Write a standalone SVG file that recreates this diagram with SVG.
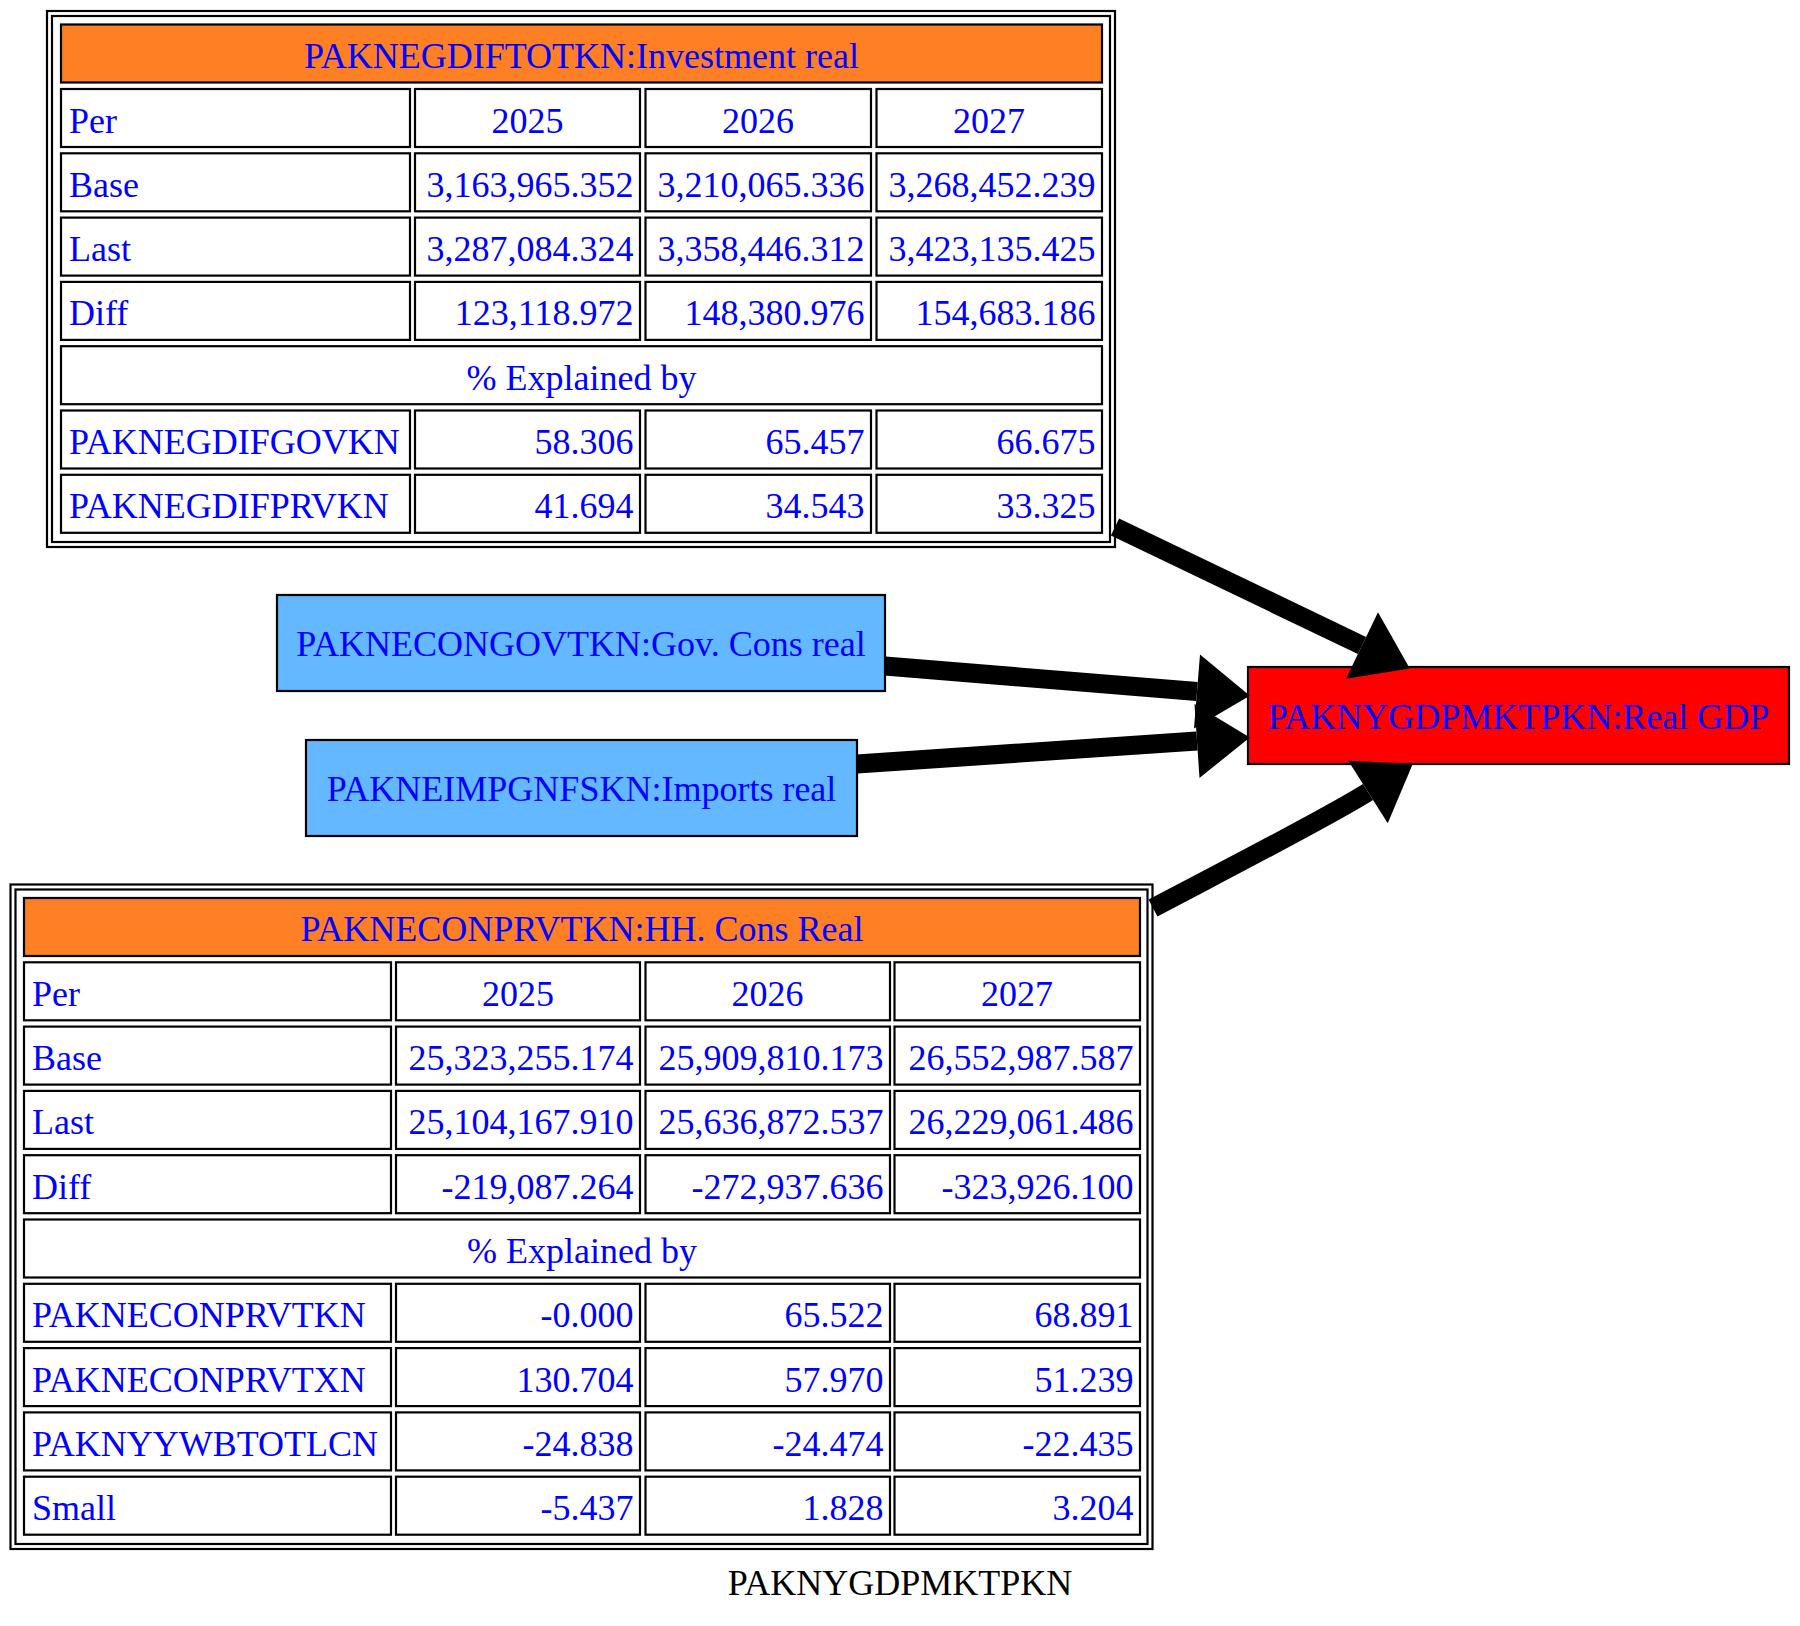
<svg xmlns="http://www.w3.org/2000/svg" width="1800" height="1626" viewBox="0 0 1800 1626">
  <defs>
    <style>
      text { font-family: "Liberation Serif", "Times New Roman", serif; font-size: 36px; fill: #0000ff; }
      .c { text-anchor: middle; }
      .r { text-anchor: end; }
      .cell { fill: #ffffff; stroke: #000000; stroke-width: 2.2; }
      .hdr { fill: #ff7f24; stroke: #000000; stroke-width: 2.2; }
      .frame { fill: none; stroke: #000000; stroke-width: 2.2; }
      .blue { fill: #63b8ff; stroke: #000000; stroke-width: 2.2; }
      .red { fill: #ff0000; stroke: #000000; stroke-width: 2.2; }
      .edge { fill: none; stroke: #000000; stroke-width: 19; marker-end: url(#ah); }
      .foot { fill: #000000; }
    </style>
    <marker id="ah" markerUnits="userSpaceOnUse" viewBox="0 -38 54 76" markerWidth="54" markerHeight="76" refX="0" refY="0" orient="auto" overflow="visible">
      <path d="M0,-37 L53,0 L0,37 Z" fill="#000000"/>
    </marker>
  </defs>
  <rect width="1800" height="1626" fill="#ffffff"/>

  <!-- Investment real: decomposition table -->
  <g id="PAKNEGDIFTOTKN">
    <rect class="frame" x="47" y="11" width="1068" height="536"/>
    <rect class="frame" x="52" y="16" width="1058" height="526"/>
    <rect class="hdr" x="61" y="24.5" width="1041" height="58"/>
    <text class="c" x="581.5" y="67.5">PAKNEGDIFTOTKN:Investment real</text>

    <rect class="cell" x="61" y="89" width="349" height="58"/>
    <rect class="cell" x="415" y="89" width="225" height="58"/>
    <rect class="cell" x="645.5" y="89" width="225.5" height="58"/>
    <rect class="cell" x="876.5" y="89" width="225.5" height="58"/>
    <text x="69" y="132.5">Per</text>
    <text class="c" x="527.5" y="132.5">2025</text>
    <text class="c" x="758" y="132.5">2026</text>
    <text class="c" x="989" y="132.5">2027</text>

    <rect class="cell" x="61" y="153.3" width="349" height="58"/>
    <rect class="cell" x="415" y="153.3" width="225" height="58"/>
    <rect class="cell" x="645.5" y="153.3" width="225.5" height="58"/>
    <rect class="cell" x="876.5" y="153.3" width="225.5" height="58"/>
    <text x="69" y="196.8">Base</text>
    <text class="r" x="633.5" y="196.8">3,163,965.352</text>
    <text class="r" x="864.5" y="196.8">3,210,065.336</text>
    <text class="r" x="1095.5" y="196.8">3,268,452.239</text>

    <rect class="cell" x="61" y="217.6" width="349" height="58"/>
    <rect class="cell" x="415" y="217.6" width="225" height="58"/>
    <rect class="cell" x="645.5" y="217.6" width="225.5" height="58"/>
    <rect class="cell" x="876.5" y="217.6" width="225.5" height="58"/>
    <text x="69" y="261.1">Last</text>
    <text class="r" x="633.5" y="261.1">3,287,084.324</text>
    <text class="r" x="864.5" y="261.1">3,358,446.312</text>
    <text class="r" x="1095.5" y="261.1">3,423,135.425</text>

    <rect class="cell" x="61" y="281.9" width="349" height="58"/>
    <rect class="cell" x="415" y="281.9" width="225" height="58"/>
    <rect class="cell" x="645.5" y="281.9" width="225.5" height="58"/>
    <rect class="cell" x="876.5" y="281.9" width="225.5" height="58"/>
    <text x="69" y="325.4">Diff</text>
    <text class="r" x="633.5" y="325.4">123,118.972</text>
    <text class="r" x="864.5" y="325.4">148,380.976</text>
    <text class="r" x="1095.5" y="325.4">154,683.186</text>

    <rect class="cell" x="61" y="346.2" width="1041" height="58"/>
    <text class="c" x="581.5" y="389.7">% Explained by</text>

    <rect class="cell" x="61" y="410.5" width="349" height="58"/>
    <rect class="cell" x="415" y="410.5" width="225" height="58"/>
    <rect class="cell" x="645.5" y="410.5" width="225.5" height="58"/>
    <rect class="cell" x="876.5" y="410.5" width="225.5" height="58"/>
    <text x="69" y="454">PAKNEGDIFGOVKN</text>
    <text class="r" x="633.5" y="454">58.306</text>
    <text class="r" x="864.5" y="454">65.457</text>
    <text class="r" x="1095.5" y="454">66.675</text>

    <rect class="cell" x="61" y="474.8" width="349" height="58"/>
    <rect class="cell" x="415" y="474.8" width="225" height="58"/>
    <rect class="cell" x="645.5" y="474.8" width="225.5" height="58"/>
    <rect class="cell" x="876.5" y="474.8" width="225.5" height="58"/>
    <text x="69" y="518.3">PAKNEGDIFPRVKN</text>
    <text class="r" x="633.5" y="518.3">41.694</text>
    <text class="r" x="864.5" y="518.3">34.543</text>
    <text class="r" x="1095.5" y="518.3">33.325</text>
  </g>

  <!-- Plain input nodes -->
  <g id="PAKNECONGOVTKN">
    <rect class="blue" x="277" y="595" width="608" height="96"/>
    <text class="c" x="581" y="656">PAKNECONGOVTKN:Gov. Cons real</text>
  </g>
  <g id="PAKNEIMPGNFSKN">
    <rect class="blue" x="306" y="740" width="551" height="96"/>
    <text class="c" x="581.5" y="801">PAKNEIMPGNFSKN:Imports real</text>
  </g>

  <!-- Target node -->
  <g id="PAKNYGDPMKTPKN">
    <rect class="red" x="1248" y="667" width="541" height="97"/>
    <text class="c" x="1518.5" y="729">PAKNYGDPMKTPKN:Real GDP</text>
  </g>

  <!-- HH. Cons Real: decomposition table -->
  <g id="PAKNECONPRVTKN">
    <rect class="frame" x="10.5" y="884.5" width="1142" height="664.5"/>
    <rect class="frame" x="15.5" y="889.5" width="1132" height="654.5"/>
    <rect class="hdr" x="24" y="898" width="1116" height="58"/>
    <text class="c" x="582" y="941">PAKNECONPRVTKN:HH. Cons Real</text>

    <rect class="cell" x="24" y="962.3" width="367" height="58"/>
    <rect class="cell" x="396" y="962.3" width="244" height="58"/>
    <rect class="cell" x="645.5" y="962.3" width="244.5" height="58"/>
    <rect class="cell" x="894.5" y="962.3" width="245.5" height="58"/>
    <text x="32" y="1005.8">Per</text>
    <text class="c" x="518" y="1005.8">2025</text>
    <text class="c" x="767.5" y="1005.8">2026</text>
    <text class="c" x="1017" y="1005.8">2027</text>

    <rect class="cell" x="24" y="1026.6" width="367" height="58"/>
    <rect class="cell" x="396" y="1026.6" width="244" height="58"/>
    <rect class="cell" x="645.5" y="1026.6" width="244.5" height="58"/>
    <rect class="cell" x="894.5" y="1026.6" width="245.5" height="58"/>
    <text x="32" y="1070.1">Base</text>
    <text class="r" x="633.5" y="1070.1">25,323,255.174</text>
    <text class="r" x="883.5" y="1070.1">25,909,810.173</text>
    <text class="r" x="1133.5" y="1070.1">26,552,987.587</text>

    <rect class="cell" x="24" y="1090.9" width="367" height="58"/>
    <rect class="cell" x="396" y="1090.9" width="244" height="58"/>
    <rect class="cell" x="645.5" y="1090.9" width="244.5" height="58"/>
    <rect class="cell" x="894.5" y="1090.9" width="245.5" height="58"/>
    <text x="32" y="1134.4">Last</text>
    <text class="r" x="633.5" y="1134.4">25,104,167.910</text>
    <text class="r" x="883.5" y="1134.4">25,636,872.537</text>
    <text class="r" x="1133.5" y="1134.4">26,229,061.486</text>

    <rect class="cell" x="24" y="1155.2" width="367" height="58"/>
    <rect class="cell" x="396" y="1155.2" width="244" height="58"/>
    <rect class="cell" x="645.5" y="1155.2" width="244.5" height="58"/>
    <rect class="cell" x="894.5" y="1155.2" width="245.5" height="58"/>
    <text x="32" y="1198.7">Diff</text>
    <text class="r" x="633.5" y="1198.7">-219,087.264</text>
    <text class="r" x="883.5" y="1198.7">-272,937.636</text>
    <text class="r" x="1133.5" y="1198.7">-323,926.100</text>

    <rect class="cell" x="24" y="1219.5" width="1116" height="58"/>
    <text class="c" x="582" y="1263">% Explained by</text>

    <rect class="cell" x="24" y="1283.8" width="367" height="58"/>
    <rect class="cell" x="396" y="1283.8" width="244" height="58"/>
    <rect class="cell" x="645.5" y="1283.8" width="244.5" height="58"/>
    <rect class="cell" x="894.5" y="1283.8" width="245.5" height="58"/>
    <text x="32" y="1327.3">PAKNECONPRVTKN</text>
    <text class="r" x="633.5" y="1327.3">-0.000</text>
    <text class="r" x="883.5" y="1327.3">65.522</text>
    <text class="r" x="1133.5" y="1327.3">68.891</text>

    <rect class="cell" x="24" y="1348.1" width="367" height="58"/>
    <rect class="cell" x="396" y="1348.1" width="244" height="58"/>
    <rect class="cell" x="645.5" y="1348.1" width="244.5" height="58"/>
    <rect class="cell" x="894.5" y="1348.1" width="245.5" height="58"/>
    <text x="32" y="1391.6">PAKNECONPRVTXN</text>
    <text class="r" x="633.5" y="1391.6">130.704</text>
    <text class="r" x="883.5" y="1391.6">57.970</text>
    <text class="r" x="1133.5" y="1391.6">51.239</text>

    <rect class="cell" x="24" y="1412.4" width="367" height="58"/>
    <rect class="cell" x="396" y="1412.4" width="244" height="58"/>
    <rect class="cell" x="645.5" y="1412.4" width="244.5" height="58"/>
    <rect class="cell" x="894.5" y="1412.4" width="245.5" height="58"/>
    <text x="32" y="1455.9">PAKNYYWBTOTLCN</text>
    <text class="r" x="633.5" y="1455.9">-24.838</text>
    <text class="r" x="883.5" y="1455.9">-24.474</text>
    <text class="r" x="1133.5" y="1455.9">-22.435</text>

    <rect class="cell" x="24" y="1476.7" width="367" height="58"/>
    <rect class="cell" x="396" y="1476.7" width="244" height="58"/>
    <rect class="cell" x="645.5" y="1476.7" width="244.5" height="58"/>
    <rect class="cell" x="894.5" y="1476.7" width="245.5" height="58"/>
    <text x="32" y="1520.2">Small</text>
    <text class="r" x="633.5" y="1520.2">-5.437</text>
    <text class="r" x="883.5" y="1520.2">1.828</text>
    <text class="r" x="1133.5" y="1520.2">3.204</text>
  </g>

  <!-- Connectors into the target node -->
  <g id="edges">
    <path class="edge" d="M1115,527 L1362,645.5"/>
    <path class="edge" d="M885,666 L1197,691.5"/>
    <path class="edge" d="M857,764 L1197,741"/>
    <path class="edge" d="M1153,908 C1250,857 1330,816 1368,792"/>
  </g>

  <!-- Graph caption -->
  <text class="c foot" x="900" y="1595">PAKNYGDPMKTPKN</text>
</svg>
